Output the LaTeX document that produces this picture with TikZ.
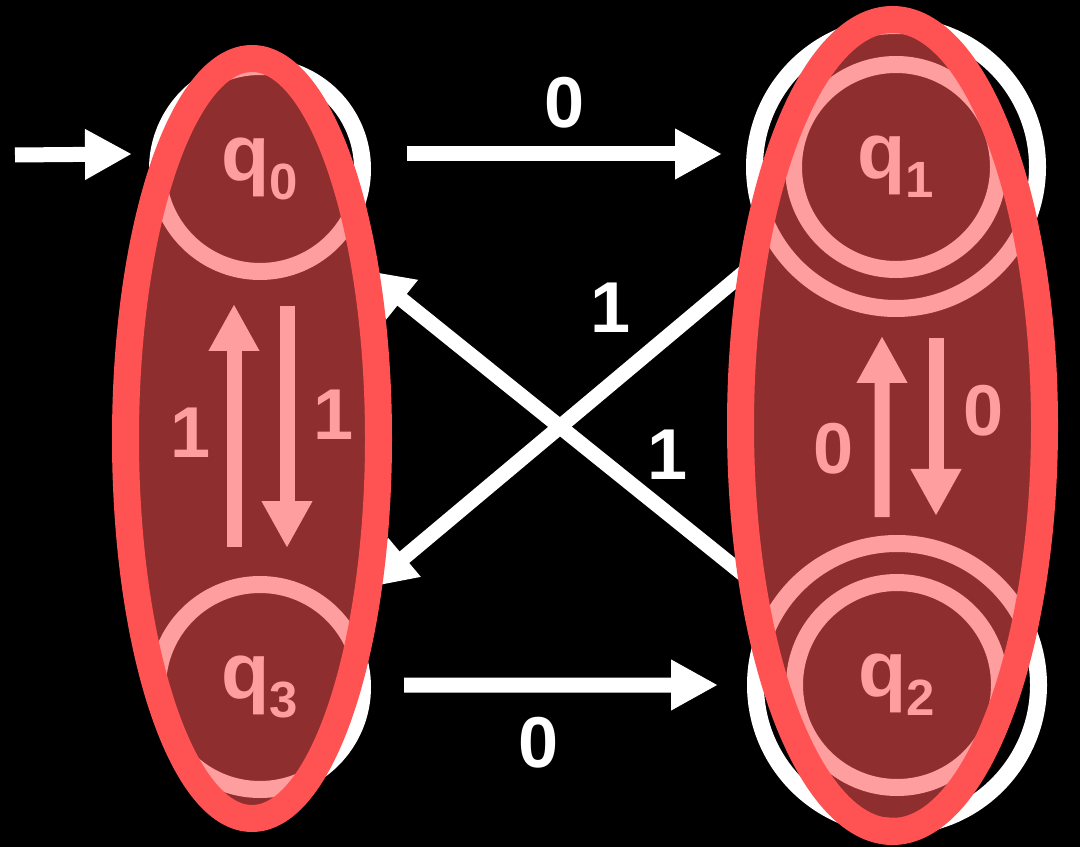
\documentclass[tikz,border=0pt]{standalone}
\usepackage{fontspec}
\setmainfont{Liberation Sans}
\usepackage{tikz}
\usetikzlibrary{arrows.meta, shapes.geometric}

\definecolor{setred}{HTML}{FF5353}

\pgfdeclarelayer{front}
\pgfsetlayers{main,front}

\newcommand{\qname}[1]{q\raisebox{-11pt}{\fontsize{29}{30}\selectfont #1}}

\tikzset{
    state/.style={draw=white, circle, line width=0.34cm, minimum size=4.1cm, inner sep=0pt, text=white, font=\fontsize{45}{50}\selectfont\bfseries},
    acc/.style={draw=white, line width=0.34cm},
    trans/.style={draw=white, line width=0.3cm, -{Triangle[length=0.94cm, width=0.95cm]}},
    sym/.style={text=white, inner sep=0pt, outer sep=0pt, font=\fontsize{41}{45}\selectfont\bfseries},
    merged/.style={ellipse, draw=setred, line width=0.54cm, fill=setred, fill opacity=0.56, inner sep=0pt, outer sep=0pt}
}

\begin{document}
\begin{tikzpicture}
    \fill[black] (0,0) rectangle (21.6,16.94);

    % merged classes go on top of the automaton
    \begin{pgfonlayer}{front}
    \node[merged, minimum width=5.06cm, minimum height=15.2cm] (L) at (5.04,8.17) {};
    \node[merged, minimum width=6.08cm, minimum height=16.24cm] (R) at (17.85,8.43) {};
    \end{pgfonlayer}

    \node[state] (q0) at (5.2,13.56) {\qname{0}};
    \node[state] (q3) at (5.2,3.2) {\qname{3}};
    \node[state] (q1) at (17.92,13.6) {\qname{1}};
    \node[state] (q2) at (17.94,3.24) {\qname{2}};
    \draw[acc] (q1) circle[radius=2.83cm];
    \draw[acc] (q2) circle[radius=2.83cm];

    \coordinate (init) at (0.3,13.84);
    \draw[trans] (init) -- ([shift={(-0.34,0.3)}]q0.west);

    \draw[trans] ([shift={(0.72,0.3)}]q0.east) -- ([shift={(-1.26,0.26)}]q1.west) node[sym, midway, above=0.52cm] {0};
    \draw[trans] ([shift={(0.66,0.04)}]q3.east) -- ([shift={(-1.36,0)}]q2.west) node[sym, pos=0.43, below=0.64cm] {0};

    \draw[trans] (R.131) -- (L.308) node[sym, pos=0.37, above=1.03cm] {1};
    \draw[trans] (R.228) -- (L.56) node[sym, pos=0.22, above=0.66cm] {1};

    \draw[trans] ([shift={(-0.52,0.58)}]q3.north) -- ([shift={(-0.52,-0.48)}]q0.south) node[sym, pos=0.47, left=0.46cm] {1};
    \draw[trans] ([shift={(0.54,-0.52)}]q0.south) -- ([shift={(0.54,0.56)}]q3.north) node[sym, pos=0.45, right=0.52cm] {1};
    \draw[trans] ([shift={(-0.3,1.14)}]q2.north) -- ([shift={(-0.28,-1.16)}]q1.south) node[sym, pos=0.38, left=0.56cm] {0};
    \draw[trans] ([shift={(0.8,-1.2)}]q1.south) -- ([shift={(0.78,1.16)}]q2.north) node[sym, pos=0.41, right=0.54cm] {0};
\end{tikzpicture}
\end{document}
